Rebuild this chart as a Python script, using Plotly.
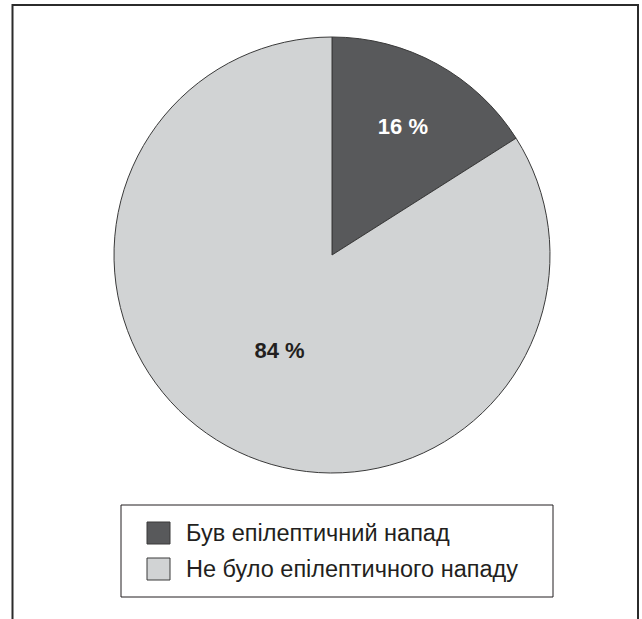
import plotly.graph_objects as go

labels = ["Був епілептичний напад", "Не було епілептичного нападу"]
values = [16, 84]
colors = ["#58595b", "#d1d3d4"]
text_colors = ["#ffffff", "#231f20"]

W, H = 642, 619

def px(x):
    return x / W

def py(y):
    return 1 - y / H

fig = go.Figure()
fig.add_trace(go.Pie(
    labels=labels,
    values=values,
    sort=False,
    direction="clockwise",
    rotation=0,
    marker=dict(colors=colors, line=dict(color="#3a3a3a", width=1)),
    texttemplate="%{value} %",
    textposition="inside",
    insidetextorientation="horizontal",
    insidetextfont=dict(family="Liberation Sans, Arial", size=22, color=text_colors, weight="bold"),
    textfont=dict(family="Liberation Sans, Arial", size=22, color=text_colors, weight="bold"),
    domain=dict(x=[px(114), px(550)], y=[py(473), py(37)]),
    showlegend=False,
    hoverinfo="label+percent",
))

shapes = []
# outer frame (open at the bottom)
shapes.append(dict(type="path", xref="paper", yref="paper",
                   path=f"M {px(12.5)},{py(630)} L {px(12.5)},{py(5)} L {px(638)},{py(5)} L {px(638)},{py(630)}",
                   line=dict(color="#2b2b2b", width=2)))
# legend box
shapes.append(dict(type="rect", xref="paper", yref="paper",
                   x0=px(121), x1=px(553), y0=py(597), y1=py(505),
                   line=dict(color="#231f20", width=1), fillcolor="white"))
annotations = []
row_y = [533, 569]
for i, lab in enumerate(labels):
    shapes.append(dict(type="rect", xref="paper", yref="paper",
                       x0=px(147), x1=px(170), y0=py(row_y[i] + 11), y1=py(row_y[i] - 11),
                       line=dict(color="#3a3a3a", width=1), fillcolor=colors[i]))
    annotations.append(dict(xref="paper", yref="paper", x=px(184), y=py(row_y[i]),
                            xanchor="left", yanchor="middle", showarrow=False,
                            text=lab, font=dict(family="Liberation Sans, Arial", size=23.5, color="#231f20")))

fig.update_layout(
    width=W, height=H,
    margin=dict(l=0, r=0, t=0, b=0),
    paper_bgcolor="white",
    plot_bgcolor="white",
    font=dict(family="Liberation Sans, Arial"),
    shapes=shapes,
    annotations=annotations,
)

fig.write_html("out.html")
